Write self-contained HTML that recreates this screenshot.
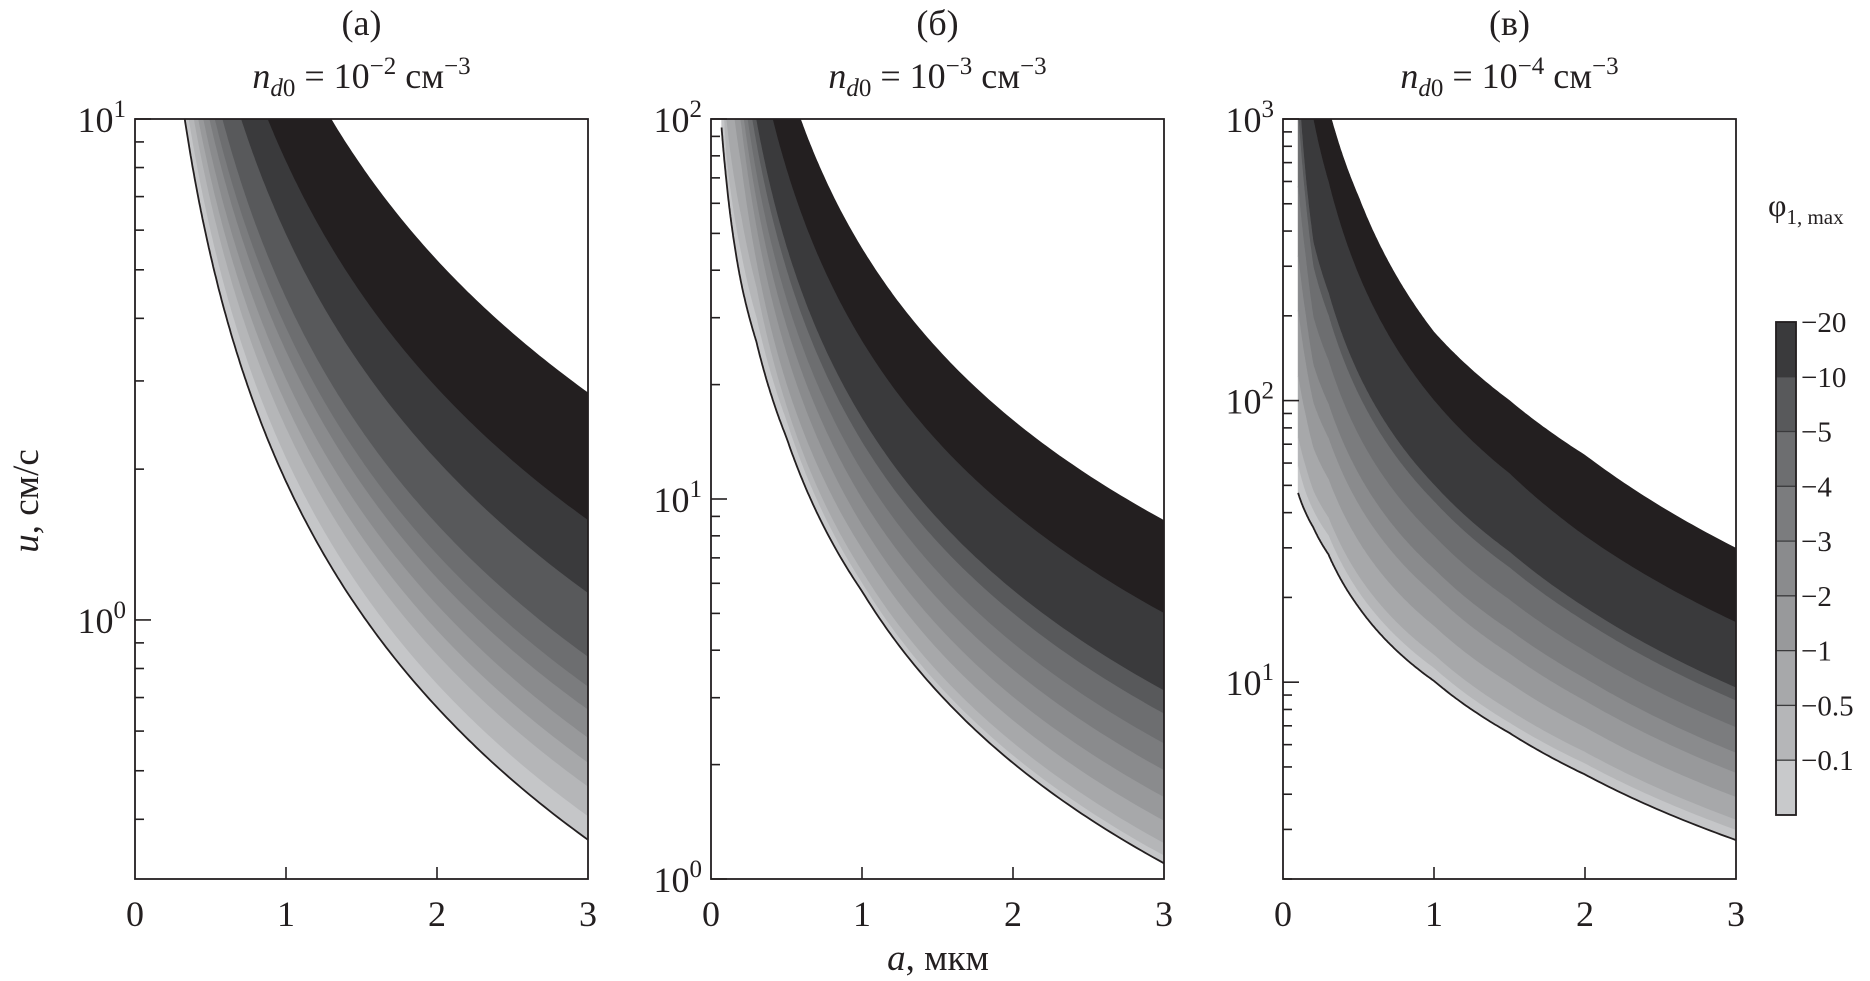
<!DOCTYPE html>
<html><head><meta charset="utf-8"><style>
html,body{margin:0;padding:0;background:#fff;}
svg{display:block;font-family:"Liberation Serif",serif;}
</style></head><body>
<svg id="fig" width="1870" height="981" viewBox="0 0 1870 981" xmlns="http://www.w3.org/2000/svg">
<g id="root"></g>
</svg>
<script>
// ---- data ----
const aGridA = [0.1,0.2,0.3,0.5,1,2,3];
const boundsA = [
 [466,165,89.7,41.7,14.8,5.22,2.84],
 [259,91.8,49.9,23.2,8.21,2.90,1.58],
 [185,65.7,35.7,16.6,5.87,2.08,1.13],
 [138,49.0,26.6,12.4,4.38,1.55,0.843],
 [121,42.7,23.2,10.8,3.82,1.35,0.735],
 [108,38.4,20.9,9.72,3.43,1.21,0.661],
 [95.3,33.8,18.4,8.54,3.02,1.07,0.581],
 [85.0,30.1,16.4,7.61,2.69,0.952,0.518],
 [76.1,27.0,14.7,6.82,2.41,0.852,0.464],
 [66.4,23.5,12.8,5.95,2.10,0.744,0.405],
 [59.7,21.1,11.5,5.35,1.89,0.669,0.364]
];
const aGridB = [0.07,0.1,0.2,0.3,0.5,1,2,3];
const boundsB = [
 [3000,1440,510,277,129,45.6,16.1,8.78],
 [2000,820,291,158,73.5,26.0,9.19,5.0],
 [1200,513,182,98.9,46.0,16.3,5.75,3.13],
 [1000,446,158,86.0,40.0,14.1,5.00,2.72],
 [800,372,132,71.7,33.4,11.8,4.17,2.27],
 [600,317,112,61.0,28.4,10.0,3.55,1.93],
 [400,220,95.3,51.8,24.1,8.52,3.01,1.64],
 [300,160,75,42,20.0,7.38,2.61,1.42],
 [170,100,55,36,17.5,6.44,2.28,1.24],
 [130,80,44,30,16.0,6.0,2.11,1.15],
 [95,70,37,26,14.5,5.72,2.02,1.10]
];
const aGridC = [0.1,0.15,0.2,0.3,0.5,1,1.5,2,3];
const boundsC = [
 [20000,6000,2500,1100,530,175,100,64,29.9],
 [6000,2000,1000,600,280,100,55,33,16.3],
 [1400,620,366,242,124,50.2,29.0,18.4,9.55],
 [1047,500,299,201,105,43.8,25.5,16.4,8.59],
 [577,320,198,139,75.3,33.0,19.6,12.9,6.90],
 [327,200,134,97.3,54.8,25.2,15.3,10.3,5.60],
 [209,135,98.2,73.6,42.7,20.5,12.6,8.57,4.75],
 [122,88,67.8,52.6,31.6,15.8,9.91,6.90,3.90],
 [73.8,58,47.8,38.4,23.8,12.5,7.93,5.64,3.24],
 [58.5,47,40.7,33.2,20.9,11.2,7.16,5.13,2.98],
 [47,40,35.5,28.5,18.5,10.1,6.6,4.7,2.75]
];
const bandColors = ["#231f20","#3a3a3c","#58595b","#6d6e70","#7b7c7e","#8a8b8d","#98999b","#a7a8aa","#b5b6b8","#c5c6c8"];
const cbarColors = ["#3a3a3c","#58595b","#6d6e70","#7b7c7e","#8a8b8d","#98999b","#a7a8aa","#b5b6b8","#c8c9cb"];
const cbarLabels = ["\u221220","\u221210","\u22125","\u22124","\u22123","\u22122","\u22121","\u22120.5","\u22120.1"];
const xTicks = [0,1,2,3];

const NS="http://www.w3.org/2000/svg";
const root=document.getElementById('root');
function mk(tag,attrs,parent){const e=document.createElementNS(NS,tag);for(const k in attrs)e.setAttribute(k,attrs[k]);(parent||root).appendChild(e);return e;}

const TOP=119,BOT=879;
const panels=[
 {id:'a',x0:135,x1:588,ymin:0.304,ymax:10,grid:aGridA,bounds:boundsA,lab:'(a)',exp:'\u22122',decades:[0,1],minDec:[-1,0]},
 {id:'b',x0:711,x1:1164,ymin:1,ymax:100,grid:aGridB,bounds:boundsB,lab:'(\u0431)',exp:'\u22123',decades:[0,1,2],minDec:[0,1]},
 {id:'c',x0:1283,x1:1736,ymin:2.0,ymax:1000,grid:aGridC,bounds:boundsC,lab:'(\u0432)',exp:'\u22124',decades:[1,2,3],minDec:[0,1,2]}
];
function interp(grid,vals,a){
  let i=0; while(i<grid.length-2 && a>grid[i+1]) i++;
  const la=Math.log(a),l0=Math.log(grid[i]),l1=Math.log(grid[i+1]);
  const t=(la-l0)/(l1-l0);
  return Math.exp(Math.log(vals[i])+t*(Math.log(vals[i+1])-Math.log(vals[i])));
}
panels.forEach(p=>{
  const xs=a=>p.x0+(a/3)*(p.x1-p.x0);
  const ys=u=>TOP+(Math.log10(p.ymax)-Math.log10(u))/(Math.log10(p.ymax)-Math.log10(p.ymin))*(BOT-TOP);
  const g=mk('g',{});
  
  
  const clip=mk('clipPath',{id:'clip'+p.id},g);
  mk('rect',{x:p.x0,y:TOP,width:p.x1-p.x0,height:BOT-TOP},clip);
  const fg=mk('g',{'clip-path':'url(#clip'+p.id+')'},g);
  const N=300, a0=p.grid[0];
  const samples=[];for(let i=0;i<=N;i++){samples.push(a0*Math.pow(3/a0,i/N));}
  const curve=k=>samples.map(a=>[xs(a),Math.max(-5000,Math.min(5000,ys(interp(p.grid,p.bounds[k],a))))]);
  for(let k=0;k<p.bounds.length-1;k++){
    const up=curve(k),lo=curve(k+1).reverse();
    const d='M'+up.map(q=>q[0].toFixed(1)+','+q[1].toFixed(1)).join('L')+'L'+lo.map(q=>q[0].toFixed(1)+','+q[1].toFixed(1)).join('L')+'Z';
    const band=mk('path',{d:d,fill:bandColors[k],stroke:bandColors[k],'stroke-width':0.6},fg);
    
    
  }
  const low=curve(p.bounds.length-1);
  const ln=mk('path',{d:'M'+low.map(q=>q[0].toFixed(1)+','+q[1].toFixed(1)).join('L'),fill:'none',stroke:'#231f20','stroke-width':1.8},fg);
  
  
  const fr=mk('rect',{x:p.x0,y:TOP,width:p.x1-p.x0,height:BOT-TOP,fill:'none',stroke:'#231f20','stroke-width':1.8},g);
  
  
  p.minDec.forEach(d=>{for(let m=2;m<=9;m++){const v=m*Math.pow(10,d);if(v<p.ymin||v>p.ymax)continue;const y=ys(v);mk('line',{x1:p.x0,x2:p.x0+9,y1:y,y2:y,stroke:'#231f20','stroke-width':1.6},g);}});
  p.decades.forEach(d=>{const y=ys(Math.pow(10,d));mk('line',{x1:p.x0,x2:p.x0+16,y1:y,y2:y,stroke:'#231f20','stroke-width':1.6},g);
    const t=mk('text',{x:p.x0-9,y:y+13,'text-anchor':'end','font-size':36,fill:'#231f20'},g);
    
    
    t.textContent='10';const s=mk('tspan',{dy:-15,'font-size':25},t);s.textContent=String(d);});
  xTicks.forEach(v=>{const x=xs(v);if(v>0&&v<3)mk('line',{x1:x,x2:x,y1:BOT,y2:BOT-12,stroke:'#231f20','stroke-width':1.6},g);
    const t=mk('text',{x:x,y:926,'text-anchor':'middle','font-size':36,fill:'#231f20'},g);
    
    
    t.textContent=String(v);});
  const cx=(p.x0+p.x1)/2;
  const t1=mk('text',{x:cx,y:35,'text-anchor':'middle','font-size':36,fill:'#231f20'},g);
  
  
  t1.textContent=p.lab;
  const t2=mk('text',{x:cx,y:88,'text-anchor':'middle','font-size':36,fill:'#231f20'},g);
  
  
  t2.innerHTML='<tspan font-style="italic">n</tspan><tspan font-style="italic" font-size="25" dy="8">d</tspan><tspan font-size="25">0</tspan><tspan dy="-8"> = 10</tspan><tspan font-size="25" dy="-14">'+p.exp+'</tspan><tspan dy="14"> см</tspan><tspan font-size="25" dy="-14">\u22123</tspan>';
});
const yt=mk('text',{x:0,y:0,'text-anchor':'middle','font-size':37,fill:'#231f20',transform:'translate(38,501) rotate(-90)'});


yt.innerHTML='<tspan font-style="italic">u</tspan>, см/с';
const xt=mk('text',{x:938,y:970,'text-anchor':'middle','font-size':37,fill:'#231f20'});


xt.innerHTML='<tspan font-style="italic">a</tspan>, мкм';
const cb=mk('g',{});


const cbT=322,cbB=815,cbX=1776,cbW=20,bh=(cbB-cbT)/cbarColors.length;
cbarColors.forEach((c,i)=>{const r=mk('rect',{x:cbX,y:cbT+i*bh,width:cbW,height:bh,fill:c,stroke:'#3a3a3c','stroke-width':1.2},cb);
  
  });
mk('rect',{x:cbX,y:cbT,width:cbW,height:cbB-cbT,fill:'none',stroke:'#231f20','stroke-width':1.8},cb);
cbarLabels.forEach((l,i)=>{const t=mk('text',{x:cbX+cbW+5,y:cbT+i*bh+10,'font-size':29,fill:'#231f20'},cb);
  
  
  t.textContent=l;});
const ct=mk('text',{x:1768,y:216,'font-size':32,fill:'#231f20'},cb);


ct.innerHTML='\u03c6<tspan font-size="21" dy="8">1, max</tspan>';
</script>
</body></html>
